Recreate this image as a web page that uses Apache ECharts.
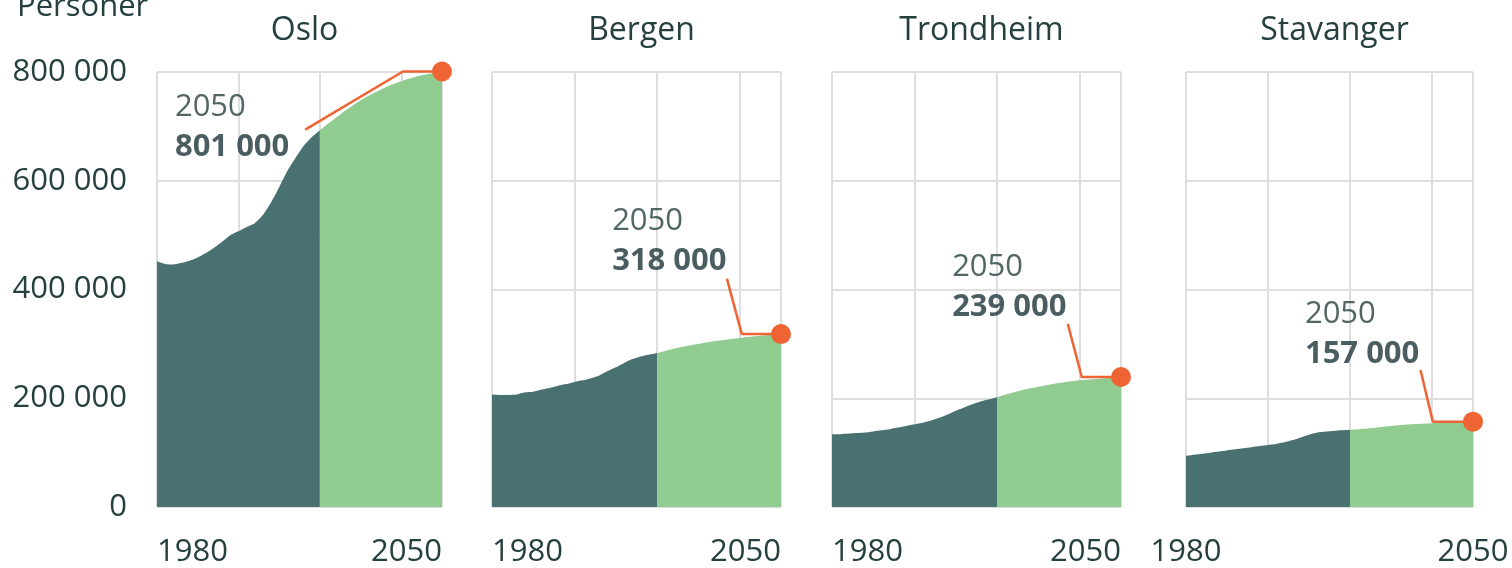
<!DOCTYPE html>
<html>
<head>
<meta charset="utf-8">
<script src="https://cdn.jsdelivr.net/npm/echarts@6/dist/echarts.min.js"></script>
<style>
html,body{margin:0;padding:0;background:#fff;}
#chart{width:1512px;height:568px;}
</style>
</head>
<body>
<div id="chart"></div>
<script>
// ---- data ----
const cities = ['Oslo', 'Bergen', 'Trondheim', 'Stavanger'];
const yUnit = 'Personer';
const histYears = [1980,1982,1984,1986,1988,1990,1992,1994,1996,1998,2000,2002,2004,2006,2008,2010,2012,2014,2016,2018,2020];
const projYears = [2020,2025,2030,2035,2040,2045,2050];
const osloHist = [452000,447000,446000,449000,453000,459000,467000,477000,488000,500000,507000,515000,522000,537000,560000,588000,618000,642000,664000,680000,693000];
const osloProj = [693000,722000,748000,768000,783000,794000,801000];
const bergenHist = [207000,206000,206000,207000,211000,212000,216000,219000,223000,226000,230000,233000,237000,242000,250000,257000,265000,272000,277000,280000,283000];
const bergenProj = [283000,293000,300000,306000,311000,315000,318000];
const trondHist = [134000,134000,135000,136000,137000,139000,141000,143000,146000,149000,152000,155000,159000,164000,170000,177000,183000,189000,194000,198000,202000];
const trondProj = [202000,213000,221000,228000,233000,236000,239000];
const stavHist = [94000,96000,98000,100000,102000,104000,106000,108000,110000,112000,114000,116000,119000,123000,128000,133000,137000,139000,140000,141000,142000];
const stavProj = [142000,145000,149000,152000,154000,156000,157000];
const xTickLabels = ['1980', '2050'];
const yTicks = [0, 200000, 400000, 600000, 800000];
const calloutYear = '2050';

const hist = [osloHist, bergenHist, trondHist, stavHist];
const proj = [osloProj, bergenProj, trondProj, stavProj];

// ---- layout / styling (not data) ----
const panels = [
  {left:157, width:285, minAlign:'left', maxAlign:'right'},
  {left:492, width:289, minAlign:'left', maxAlign:'right'},
  {left:832, width:289, minAlign:'left', maxAlign:'right'},
  {left:1186, width:287, minAlign:'center', maxAlign:'center'}
];
const callouts = [
  {text:[1984.4, 699000], start:[2016.4, 694000], elbow:2040.4},
  {text:[2009.1, 488000], start:[2036.9, 420000], elbow:2040.5},
  {text:[2009.1, 405000], start:[2037.1, 337000], elbow:2040.5},
  {text:[2009.0, 317000], start:[2037.2, 252000], elbow:2040.2}
];
const DARK = '#4a7171', GREEN = '#90cb90', ORANGE = '#ef6433';
const TXT = '#26403f', TXTB = '#1d3538', GRID = '#dedede';
const FONT = '"Open Sans", "Noto Sans", sans-serif';
const FS = 31;

function fmt(v){ return String(Math.round(v)).replace(/\B(?=(\d{3})+(?!\d))/g, ' '); }

const grid = [], xAxis = [], yAxis = [], series = [], title = [];
title.push({text: yUnit, left: 12, top: -13, textStyle:{fontFamily:FONT, fontSize:FS, fontWeight:'normal', color:TXT}});

panels.forEach((p, i) => {
  grid.push({left:p.left, width:p.width, top:72, height:436, containLabel:false});
  title.push({text: cities[i], left: p.left + p.width/2, top: 10, textAlign:'center',
    textStyle:{fontFamily:FONT, fontSize:32, fontWeight:'normal', color:TXT}});
  xAxis.push({
    type:'value', gridIndex:i, min:1980, max:2050, interval:20,
    axisLine:{show:false}, axisTick:{show:false},
    splitLine:{show:true, lineStyle:{color:GRID, width:2}},
    axisLabel:{
      show:true, margin:30, fontFamily:FONT, fontSize:FS, color:TXT,
      showMinLabel:true, showMaxLabel:true,
      alignMinLabel:p.minAlign, alignMaxLabel:p.maxAlign,
      formatter: v => (String(v) === xTickLabels[0] || String(v) === xTickLabels[1]) ? String(v) : ''
    }
  });
  yAxis.push({
    type:'value', gridIndex:i, min:yTicks[0], max:yTicks[yTicks.length-1], interval:200000,
    axisLine:{show:false}, axisTick:{show:false},
    splitLine:{show:true, lineStyle:{color:GRID, width:2}},
    axisLabel:{show: i === 0, margin:30, fontFamily:FONT, fontSize:FS, color:TXT, formatter: v => fmt(v)}
  });
  const h = histYears.map((y, k) => [y, hist[i][k]]);
  const pr = projYears.map((y, k) => [y, proj[i][k]]);
  const last = pr[pr.length-1];
  series.push({
    type:'line', xAxisIndex:i, yAxisIndex:i, data:h, smooth:0.2, showSymbol:false, symbol:'none',
    lineStyle:{width:0}, areaStyle:{color:DARK, opacity:1}, silent:true, z:2, clip:false
  });
  series.push({
    type:'line', xAxisIndex:i, yAxisIndex:i, data:pr, smooth:0.3, showSymbol:false, symbol:'none',
    lineStyle:{width:0}, areaStyle:{color:GREEN, opacity:1}, silent:true, z:2, clip:false
  });
  const c = callouts[i];
  series.push({
    type:'line', xAxisIndex:i, yAxisIndex:i, showSymbol:false, symbol:'none', clip:false,
    data:[c.start, [c.elbow, last[1]], last],
    lineStyle:{color:ORANGE, width:2.5}, silent:true, z:5
  });
  series.push({
    type:'scatter', xAxisIndex:i, yAxisIndex:i, data:[last], symbol:'circle', symbolSize:20, clip:false,
    itemStyle:{color:ORANGE, opacity:1}, silent:true, z:6
  });
  series.push({
    type:'scatter', xAxisIndex:i, yAxisIndex:i, data:[c.text], symbolSize:0, silent:true, z:7, clip:false,
    label:{
      show:true, position:'right', distance:0,
      formatter: '{a|' + calloutYear + '}\n{b|' + fmt(last[1]) + '}',
      rich:{
        a:{fontFamily:FONT, fontSize:FS, color:TXT, lineHeight:40},
        b:{fontFamily:FONT, fontSize:FS, fontWeight:'bold', color:TXTB, lineHeight:40}
      }
    }
  });
});

const chart = echarts.init(document.getElementById('chart'), null, {renderer:'canvas'});
chart.setOption({animation:false, backgroundColor:'#ffffff', title, grid, xAxis, yAxis, series});
</script>
</body>
</html>
